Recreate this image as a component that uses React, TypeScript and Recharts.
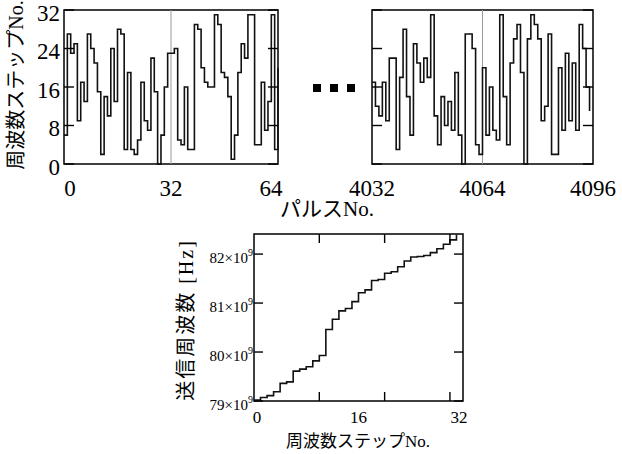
import React from "react";
import { LineChart, Line, XAxis, YAxis, ReferenceLine, ReferenceArea } from "recharts";

// frequency step No. per pulse, first pulses 0..64
const headStart = 0;
const headSteps = [
  6, 27, 23, 25, 9, 17, 13, 27, 24, 21, 15, 2, 14, 10, 24, 13,
  28, 27, 3, 19, 3, 2, 5, 17, 9, 7, 22, 15, 0, 6, 16, 23,
  23, 24, 5, 4, 16, 3, 3, 29, 28, 20, 17, 16, 16, 31, 29, 19,
  18, 14, 1, 6, 19, 25, 22, 31, 31, 4, 4, 17, 7, 13, 31, 3,
  20,
];

// last pulses 4032..4095
const tailStart = 4032;
const tailSteps = [
  17, 12, 10, 17, 9, 22, 22, 3, 18, 28, 14, 6, 25, 21, 17, 22,
  18, 31, 10, 4, 14, 8, 13, 7, 19, 6, 0, 27, 27, 24, 4, 2,
  20, 6, 16, 7, 5, 31, 14, 4, 21, 26, 29, 19, 0, 26, 31, 29,
  26, 9, 12, 27, 2, 2, 20, 7, 23, 9, 21, 7, 29, 24, 16, 11,
];

const stepTicks = [0, 8, 16, 24, 32];
const headTicks = [0, 32, 64];
const tailTicks = [4032, 4064, 4096];

// transmit frequency of each step, in 10^9 Hz
const txFreq = [
  79.02, 79.07, 79.11, 79.19, 79.36, 79.39, 79.61, 79.65,
  79.7, 79.82, 79.93, 80.46, 80.67, 80.84, 80.89, 81.03,
  81.21, 81.27, 81.46, 81.48, 81.61, 81.64, 81.74, 81.86,
  81.94, 81.95, 81.97, 82.03, 82.11, 82.2, 82.29, 82.4,
];
const freqTicks = [79, 80, 81, 82];
const freqStepLabels = [0, 16, 32];
const freqStepMarks = [10, 20, 30];

const headRows = headSteps.map((s, i) => ({ pulse: headStart + i, step: s }));
const tailRows = tailSteps.map((s, i) => ({ pulse: tailStart + i, step: s }));
const freqRows = txFreq.map((f, i) => ({ step: i, freq: f }));

const SERIF = "'Liberation Serif', 'Noto Sans CJK JP', serif";
const HEAD_W = 214;
const TAIL_W = 221;
const FREQ_W = 209;
const FREQ_H = 167;

function stepTick(plotWidth: number, withLabel: boolean) {
  return (p: any) => (
    <g>
      <line x1={p.x} x2={p.x + 10} y1={p.y} y2={p.y} stroke="#000" strokeWidth={1.4} />
      <line x1={p.x + plotWidth - 10} x2={p.x + plotWidth} y1={p.y} y2={p.y} stroke="#000" strokeWidth={1.4} />
      {withLabel && (
        <text x={p.x - 4} y={p.y + 10.5} textAnchor="end" fontSize={23} fontFamily={SERIF} fill="#000">
          {p.payload.value}
        </text>
      )}
    </g>
  );
}

function pulseTick(nudge: Record<number, number>) {
  return (p: any) => (
    <text
      x={p.x + (nudge[p.payload.value] ?? 0)}
      y={p.y + 32}
      textAnchor="middle"
      fontSize={23}
      fontFamily={SERIF}
      fill="#000"
    >
      {p.payload.value}
    </text>
  );
}

const freqTick = (p: any) => (
  <g>
    <line x1={p.x} x2={p.x + 9} y1={p.y} y2={p.y} stroke="#000" strokeWidth={1.4} />
    <line x1={p.x + FREQ_W - 9} x2={p.x + FREQ_W} y1={p.y} y2={p.y} stroke="#000" strokeWidth={1.4} />
    <text x={p.x - 1} y={p.y + 9} textAnchor="end" fontSize={15} fontFamily={SERIF} fill="#000">
      {`${p.payload.value}×10`}
      <tspan dy={-7} fontSize={10}>9</tspan>
    </text>
  </g>
);

const freqStepTick = (p: any) => {
  const v = p.payload.value;
  if (freqStepMarks.includes(v)) {
    return (
      <g>
        <line x1={p.x} x2={p.x} y1={p.y} y2={p.y - 9} stroke="#000" strokeWidth={1.4} />
        <line x1={p.x} x2={p.x} y1={p.y - FREQ_H} y2={p.y - FREQ_H + 9} stroke="#000" strokeWidth={1.4} />
      </g>
    );
  }
  const nudge: Record<number, number> = { 0: 3, 32: -4 };
  return (
    <text x={p.x + (nudge[v] ?? 0)} y={p.y + 22} textAnchor="middle" fontSize={17} fontFamily={SERIF} fill="#000">
      {v}
    </text>
  );
};

export default function App() {
  return (
    <div style={{ position: "absolute", left: 0, top: 0, width: 622, height: 454, background: "#fff" }}>
      <div style={{ position: "absolute", left: 0, top: 0 }}>
        <LineChart width={300} height={200} data={headRows} margin={{ top: 10, right: 22, bottom: 0, left: 0 }}>
          <XAxis
            dataKey="pulse"
            type="number"
            domain={[0, 64]}
            ticks={headTicks}
            interval={0}
            height={36}
            axisLine={false}
            tickLine={false}
            tickSize={0}
            tickMargin={0}
            tick={pulseTick({ 0: 6, 64: -7 })}
          />
          <YAxis
            type="number"
            domain={[0, 32]}
            ticks={stepTicks}
            interval={0}
            width={64}
            axisLine={false}
            tickLine={false}
            tickSize={0}
            tickMargin={0}
            tick={stepTick(HEAD_W, true)}
          />
          <ReferenceLine x={32} stroke="#9a9a9a" strokeWidth={1} />
          <Line
            dataKey="step"
            type="stepAfter"
            stroke="#111"
            strokeWidth={1.6}
            dot={false}
            activeDot={false}
            isAnimationActive={false}
          />
          <ReferenceArea x1={0} x2={64} y1={0} y2={32} fill="none" stroke="#000" strokeWidth={1.5} />
        </LineChart>
      </div>

      <div style={{ position: "absolute", left: 300, top: 0 }}>
        <LineChart width={322} height={200} data={tailRows} margin={{ top: 10, right: 29, bottom: 0, left: 0 }}>
          <XAxis
            dataKey="pulse"
            type="number"
            domain={[4032, 4096]}
            ticks={tailTicks}
            interval={0}
            height={36}
            axisLine={false}
            tickLine={false}
            tickSize={0}
            tickMargin={0}
            tick={pulseTick({})}
          />
          <YAxis
            type="number"
            domain={[0, 32]}
            ticks={stepTicks}
            interval={0}
            width={72}
            axisLine={false}
            tickLine={false}
            tickSize={0}
            tickMargin={0}
            tick={stepTick(TAIL_W, false)}
          />
          <ReferenceLine x={4064} stroke="#9a9a9a" strokeWidth={1} />
          <Line
            dataKey="step"
            type="stepAfter"
            stroke="#111"
            strokeWidth={1.6}
            dot={false}
            activeDot={false}
            isAnimationActive={false}
          />
          <ReferenceArea x1={4032} x2={4096} y1={0} y2={32} fill="none" stroke="#000" strokeWidth={1.5} />
        </LineChart>
      </div>

      <div style={{ position: "absolute", left: 160, top: 220 }}>
        <LineChart width={330} height={220} data={freqRows} margin={{ top: 14, right: 27, bottom: 0, left: 0 }}>
          <XAxis
            dataKey="step"
            type="number"
            domain={[0, 32]}
            ticks={[...freqStepLabels, ...freqStepMarks].sort((a, b) => a - b)}
            interval={0}
            height={39}
            axisLine={false}
            tickLine={false}
            tickSize={0}
            tickMargin={0}
            tick={freqStepTick}
          />
          <YAxis
            type="number"
            domain={[79, 82.41]}
            ticks={freqTicks}
            interval={0}
            width={94}
            axisLine={false}
            tickLine={false}
            tickSize={0}
            tickMargin={0}
            tick={freqTick}
          />
          <Line
            dataKey="freq"
            type="stepAfter"
            stroke="#111"
            strokeWidth={1.6}
            dot={false}
            activeDot={false}
            isAnimationActive={false}
          />
          <ReferenceArea x1={0} x2={32} y1={79} y2={82.41} fill="none" stroke="#000" strokeWidth={1.5} />
        </LineChart>
      </div>

      <svg width={622} height={454} style={{ position: "absolute", left: 0, top: 0, pointerEvents: "none" }}>
        <g fontFamily={SERIF} fill="#000">
          <text transform="translate(16,85) rotate(-90)" textAnchor="middle" dominantBaseline="central" fontSize={20}>
            周波数ステップNo.
          </text>
          <text x={327} y={216} textAnchor="middle" fontSize={21}>
            パルスNo.
          </text>
          <rect x={313} y={84} width={8} height={8} />
          <rect x={330} y={84} width={8} height={8} />
          <rect x={347} y={84} width={8} height={8} />
          <text
            transform="translate(186,320) rotate(-90)"
            textAnchor="middle"
            dominantBaseline="central"
            fontSize={20}
            letterSpacing={2}
          >
            送信周波数 [Hz]
          </text>
          <text x={358} y={447} textAnchor="middle" fontSize={17}>
            周波数ステップNo.
          </text>
        </g>
      </svg>
    </div>
  );
}
